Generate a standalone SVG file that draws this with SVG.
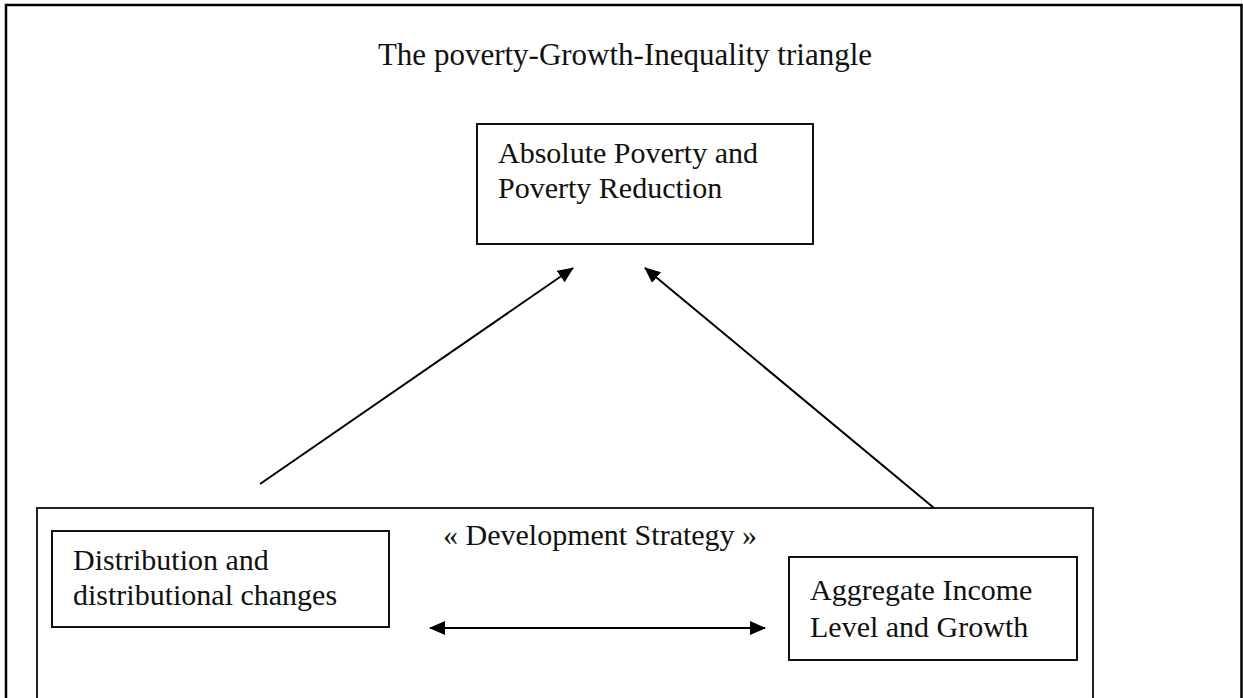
<svg xmlns="http://www.w3.org/2000/svg" width="1243" height="698" viewBox="0 0 1243 698">
<style>
text{font-family:"Liberation Serif","Times New Roman",serif;fill:#111;font-size:30px}
.box{fill:none;stroke:#111;stroke-width:2}
.conn{stroke:#000;stroke-width:2;fill:none}
</style>
<defs>
<marker id="ah" viewBox="0 0 16 14" refX="15" refY="7" markerWidth="16" markerHeight="14" markerUnits="userSpaceOnUse" orient="auto-start-reverse">
<path d="M0,0 L16,7 L0,14 Z" fill="#000"/>
</marker>
</defs>
<rect width="1243" height="698" fill="#fff"/>
<g id="frame">
<path d="M6,698 V5 H1241.5 V698" fill="none" stroke="#000" stroke-width="2.5"/>
<text x="625" y="65" text-anchor="middle" style="font-size:31px">The poverty-Growth-Inequality triangle</text>
</g>
<g id="poverty">
<rect class="box" x="477" y="124" width="336" height="120"/>
<text x="498" y="163">Absolute Poverty and</text>
<text x="498" y="198">Poverty Reduction</text>
</g>
<g id="strategy">
<path d="M37,700 V508 H1093 V700" fill="none" stroke="#222" stroke-width="2"/>
<text x="443" y="545">« Development Strategy »</text>
</g>
<g id="distribution">
<rect class="box" x="52" y="531" width="337" height="96"/>
<text x="73" y="570">Distribution and</text>
<text x="73" y="605">distributional changes</text>
</g>
<g id="income">
<rect class="box" x="789" y="557" width="288" height="103"/>
<text x="810" y="600">Aggregate Income</text>
<text x="810" y="637">Level and Growth</text>
</g>
<g id="connectors">
<line class="conn" x1="260" y1="484" x2="573" y2="268" marker-end="url(#ah)"/>
<line class="conn" x1="934" y1="508" x2="645" y2="268" marker-end="url(#ah)"/>
<line class="conn" x1="430" y1="628" x2="765" y2="628" marker-start="url(#ah)" marker-end="url(#ah)"/>
</g>
</svg>
